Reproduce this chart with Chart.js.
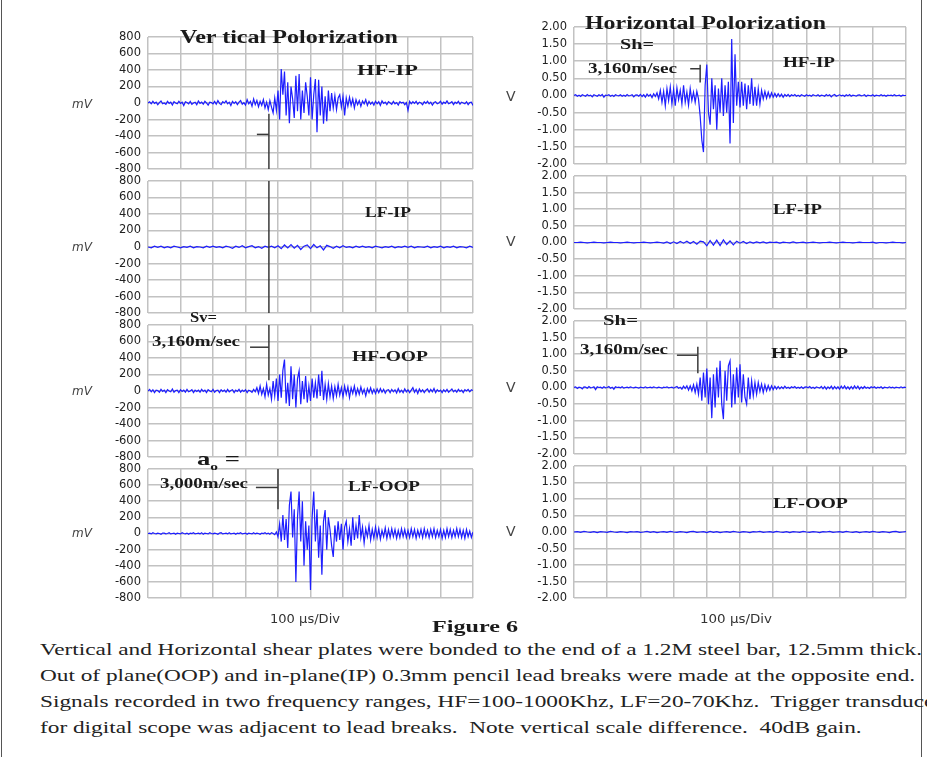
<!DOCTYPE html>
<html>
<head>
<meta charset="utf-8">
<script src="https://cdn.jsdelivr.net/npm/chart.js@4.4.1/dist/chart.umd.min.js"></script>
<style>
  html, body { margin: 0; padding: 0; background: #fff; }
  #page { position: relative; width: 927px; height: 757px; overflow: hidden; background: #fff; }
  #frame { position: absolute; left: 1px; top: 0; width: 919px; height: 757px; border-left: 1px solid #555; border-right: 1px solid #555; }
  canvas { position: absolute; }
  .t { position: absolute; white-space: nowrap; line-height: 1; transform-origin: left center; color: #1a1a1a; }
  .serif { font-family: 'Liberation Serif', 'Times New Roman', serif; }
  .bold { font-weight: bold; }
  .unit { font-family: 'DejaVu Sans', sans-serif; color: #444; }
  .cap { font-family: 'Liberation Serif', 'Times New Roman', serif; font-size: 16px; color: #222; }
</style>
</head>
<body>
<div id="page">
  <div id="frame"></div>

  <canvas id="l1" width="420" height="160" style="left:60px; top:23px"></canvas>
  <canvas id="l2" width="420" height="160" style="left:60px; top:167px"></canvas>
  <canvas id="l3" width="420" height="160" style="left:60px; top:311px"></canvas>
  <canvas id="l4" width="420" height="157" style="left:60px; top:455px"></canvas>
  <canvas id="r1" width="415" height="165" style="left:500px; top:13px"></canvas>
  <canvas id="r2" width="415" height="161" style="left:500px; top:162px"></canvas>
  <canvas id="r3" width="415" height="161" style="left:500px; top:307px"></canvas>
  <canvas id="r4" width="415" height="160" style="left:500px; top:452px"></canvas>

  <div class="t serif bold" style="left:180px; top:28px; font-size:18px" data-w="218">Ver tical Polorization</div>
  <div class="t serif bold" style="left:585px; top:14px; font-size:18px" data-w="241">Horizontal Polorization</div>

  <div class="t serif bold" style="left:357px; top:64px; font-size:14px" data-w="61">HF-IP</div>
  <div class="t serif bold" style="left:365px; top:206px; font-size:14px" data-w="46">LF-IP</div>
  <div class="t serif bold" style="left:352px; top:350px; font-size:14px" data-w="76">HF-OOP</div>
  <div class="t serif bold" style="left:348px; top:480px; font-size:14px" data-w="72">LF-OOP</div>
  <div class="t serif bold" style="left:783px; top:56px; font-size:14px" data-w="52">HF-IP</div>
  <div class="t serif bold" style="left:773px; top:203px; font-size:14px" data-w="49">LF-IP</div>
  <div class="t serif bold" style="left:771px; top:347px; font-size:14px" data-w="77">HF-OOP</div>
  <div class="t serif bold" style="left:773px; top:497px; font-size:14px" data-w="75">LF-OOP</div>

  <div class="t serif bold" style="left:190px; top:310px; font-size:15px" data-w="27">Sv=</div>
  <div class="t serif bold" style="left:152px; top:335px; font-size:14px" data-w="88">3,160m/sec</div>
  <div class="t serif bold" style="left:197px; top:449px; font-size:19px" data-w="43">a<sub style="font-size:11px">o</sub> =</div>
  <div class="t serif bold" style="left:160px; top:477px; font-size:14px" data-w="88">3,000m/sec</div>
  <div class="t serif bold" style="left:620px; top:38px; font-size:14px" data-w="34">Sh=</div>
  <div class="t serif bold" style="left:588px; top:62px; font-size:14px" data-w="89">3,160m/sec</div>
  <div class="t serif bold" style="left:603px; top:314px; font-size:14px" data-w="35">Sh=</div>
  <div class="t serif bold" style="left:580px; top:343px; font-size:14px" data-w="88">3,160m/sec</div>

  <div class="t unit" style="left:72px; top:98px; font-size:12px; font-style:italic">mV</div>
  <div class="t unit" style="left:72px; top:241px; font-size:12px; font-style:italic">mV</div>
  <div class="t unit" style="left:72px; top:385px; font-size:12px; font-style:italic">mV</div>
  <div class="t unit" style="left:72px; top:527px; font-size:12px; font-style:italic">mV</div>
  <div class="t unit" style="left:506px; top:89px; font-size:14px">V</div>
  <div class="t unit" style="left:506px; top:234px; font-size:14px">V</div>
  <div class="t unit" style="left:506px; top:380px; font-size:14px">V</div>
  <div class="t unit" style="left:506px; top:524px; font-size:14px">V</div>

  <div class="t unit" style="left:270px; top:613px; font-size:12px; color:#333" data-w="70">100 µs/Div</div>
  <div class="t unit" style="left:700px; top:613px; font-size:12px; color:#333" data-w="72">100 µs/Div</div>
  <div class="t serif bold" style="left:432px; top:618px; font-size:17px" data-w="86">Figure 6</div>

  <div class="t cap" id="cap1" style="left:40px; top:642px">Vertical and Horizontal shear plates were bonded to the end of a 1.2M steel bar, 12.5mm thick.</div>
  <div class="t cap" style="left:40px; top:668px">Out of plane(OOP) and in-plane(IP) 0.3mm pencil lead breaks were made at the opposite end.</div>
  <div class="t cap" style="left:40px; top:694px">Signals recorded in two frequency ranges, HF=100-1000Khz, LF=20-70Khz.&nbsp; Trigger transducer</div>
  <div class="t cap" style="left:40px; top:720px">for digital scope was adjacent to lead breaks.&nbsp; Note vertical scale difference.&nbsp; 40dB gain.</div>
</div>

<script>
// time axis: 10 divisions of 100 us
const xDivisions = 10;
const mvTicks = [-800, -600, -400, -200, 0, 200, 400, 600, 800];
const voltTicks = [-2, -1.5, -1, -0.5, 0, 0.5, 1, 1.5, 2];

// vertical polarization, mV
const vertHfIp = [
    0, 15, -10, 20, -5, 10, -20, 5, 25, -10,
    0, -15, 20, -5, 10, -25, 15, 0, -10, 20,
    -5, 10, -30, 15, 5, -10, 20, -15, 0, 10,
    -20, 25, -5, 10, -15, 20, 0, -25, 10, 5,
    -10, 20, -15, 30, -5, -20, 15, 0, 25, -10,
    10, -30, 20, -5, 15, -20, 10, 30, -15, 5,
    -25, 40, -10, 20, -40, 50, -20, 30, -45, 20,
    -30, 40, -60, 10, -80, 30, -50, -120, 60, -90,
    150, -200, 410, 100, 380, -150, 250, -245, 200, 50,
    -180, 330, -100, 350, -200, 150, -120, 250, 80, -150,
    310, -200, 100, 290, -355, 280, -150, 200, -250, 80,
    -220, 150, -100, 120, -60, 90, -80, 60, 100, -50,
    80, -150, 60, -40, 70, -30, 50, -60, 40, -20,
    30, -40, 25, -10, 40, -30, 20, -15, 10, -25,
    20, -10, 15, -30, 25, -5, 10, -20, 15, 0,
    -15, 20, -10, 5, -25, 15, 0, 10, -20, 5,
    -90, 20, -10, 15, -5, 20, -15, 10, 0, -20,
    15, -5, 20, -10, 10, -25, 5, 15, -10, 0,
    20, -15, 10, -5, 25, -10, 0, 15, -20, 10,
    -5, 20, -15, 10, 0, -10, 15, -20, 5, 10, -30
];

const vertLfIp = [
    0, -10, 10, -5, 10, -10, 5, -10, 10, 0,
    -10, 5, -5, 10, -10, 5, 0, -10, 10, -5,
    10, -5, 5, -10, 10, 0, -15, 10, -5, 15,
    -10, 5, 15, -10, 5, -15, 10, -5, 10, -10,
    15, -20, 25, -10, 30, -15, 20, -30, 10, 25,
    -20, 30, -10, 15, -35, 20, 5, -15, 10, -10,
    15, -5, 5, -10, 10, -5, 10, -5, 5, -10,
    10, 0, -10, 5, -5, 10, -10, 5, -5, 10,
    -5, 10, -10, 5, 0, -5, 10, -10, 5, -5,
    10, -10, 5, -5, 10, -10, 5, 0, -10, 10, -5
];

const vertHfOop = [
    0, 20, -10, 15, -20, 10, 5, -15, 20, -5,
    10, -20, 15, 0, -10, 25, -15, 5, 10, -20,
    15, -5, 10, -15, 20, -10, 0, 15, -20, 10,
    -5, 10, -15, 20, -5, 10, -20, 15, 0, -10,
    20, -15, 5, 10, -20, 15, -5, 10, -15, 20,
    -10, 5, 15, -20, 10, -5, 20, -15, 10, -5,
    15, -20, 10, 0, -15, 20, -10, 40, -30, 60,
    -40, 30, -70, 80, -50, 30, -100, 120, -60, 150,
    -120, 200, -80, 250, 380, -150, 100, -180, 300, -100,
    200, -200, 150, 245, -160, 120, -100, 180, -140, 60,
    -120, 150, -80, 100, -90, 200, -60, 245, -110, 80,
    -100, 90, -70, 60, -90, 50, -60, 80, -50, 40,
    -70, 60, -40, 50, -80, 40, -30, 60, -50, 30,
    -40, 50, -30, 20, -60, 30, -20, 40, -30, 20,
    -30, 25, -20, 30, -15, 20, -25, 10, 15, -20,
    20, -10, 15, -25, 30, -15, 10, -20, 25, -10,
    15, -20, 10, 40, -15, 20, -30, 25, -10, 15,
    -20, 10, 25, -15, 20, -10, 30, -20, 15, -5,
    10, -20, 15, -10, 20, -15, 5, 25, -10, 10,
    -15, 20, -5, 10, -20, 15, 0, 20, -10, 15, 5
];

const vertLfOop = [
    0, 5, -5, 10, 0, -5, 5, 0, -10, 5,
    5, -5, 0, 10, -5, 0, 5, -10, 5, 0,
    -5, 10, 0, -5, 5, -10, 5, 0, 10, -5,
    0, 5, -5, 10, -10, 5, 0, -5, 10, 0,
    -5, 5, 0, -10, 5, 10, -5, 0, 5, -5,
    10, -5, 0, 5, -10, 5, 0, 10, -5, 0,
    5, -10, 5, 0, -5, 10, -5, 5, 0, -10,
    5, 0, 10, -5, 5, -10, 10, 0, -15, 20,
    -40, 120, -100, 230, -80, 180, -180, 350, 520, -50,
    300, -600, 200, 520, -100, 400, -400, 150, -200, 100,
    -700, 200, 520, -100, 300, -300, 100, -510, 150, 290,
    -200, 200, 50, -150, -290, 100, -100, 150, -80, 120,
    -200, 80, 150, -100, 60, -150, 200, -80, 100, -60,
    230, -50, 80, -120, 60, -40, 100, -80, 50, -60,
    80, -50, 60, -70, 40, -40, 70, -60, 50, -50,
    60, -40, 50, -60, 40, -50, 60, -40, 50, -50,
    40, -50, 60, -40, 50, -60, 40, -40, 50, -50,
    60, -40, 40, -50, 50, -40, 60, -50, 40, -40,
    50, -60, 40, -50, 60, -40, 50, -50, 40, -40,
    60, -40, 50, -50, 40, -60, 50, -40, 30, -50, 20
];

// horizontal polarization, V
const horzHfIp = [
    0, 0.02, -0.02, 0.01, -0.03, 0.02, 0, -0.02, 0.03, -0.01,
    0.01, -0.04, 0.02, 0, -0.02, 0.02, -0.01, 0.03, -0.05, 0.01,
    0, 0.02, -0.02, 0.01, -0.03, 0.02, 0, -0.01, 0.02, -0.02,
    0.01, -0.02, 0.03, -0.01, 0, 0.02, -0.04, 0.01, 0.02, -0.02,
    0.03, -0.03, 0.02, -0.05, 0.04, -0.02, 0.03, -0.06, 0.05, -0.03,
    0.08, -0.1, 0.15, -0.2, 0.12, -0.3, 0.2, -0.15, 0.25, -0.25,
    0.18, -0.3, 0.22, -0.12, 0.15, -0.25, 0.3, -0.2, 0.1, -0.28,
    0.2, -0.15, 0.1, -0.2, 0.12, -0.1, -0.6, -1.3, -1.65, 0.3,
    0.9, -0.5, -0.85, 0.5, -0.4, 0.3, -1.0, 0.2, -0.5, 0.5,
    -0.6, 0.3, -0.5, 0.4, -1.4, 1.65, -0.8, 1.2, -0.3, 0.4,
    -0.35, 0.4, -0.3, 0.35, -0.4, 0.3, -0.25, 0.5, -0.3, 0.25,
    -0.3, 0.2, -0.25, 0.15, -0.1, 0.12, -0.08, 0.1, -0.06, 0.08,
    -0.05, 0.06, -0.04, 0.05, -0.03, 0.04, -0.05, 0.03, -0.02, 0.03,
    -0.03, 0.02, -0.01, 0.03, -0.02, 0.01, -0.03, 0.02, 0, -0.02,
    0.02, -0.01, 0.01, -0.02, 0.02, 0, -0.01, 0.02, -0.02, 0.01,
    0, -0.02, 0.03, -0.01, 0.02, -0.04, 0.01, 0.03, -0.02, 0,
    0.02, -0.01, 0.01, -0.03, 0.02, -0.01, 0.03, -0.02, 0.01, 0,
    -0.02, 0.01, 0.02, -0.01, 0, 0.02, -0.03, 0.01, 0, -0.01,
    0.02, -0.02, 0.01, 0, -0.01, 0.02, -0.01, 0.01, -0.02, 0.01,
    0, 0.01, -0.01, 0.02, -0.01, 0, 0.01, -0.02, 0.01, 0, 0
];

const horzLfIp = [
    0, 0, 0.01, 0, -0.01, 0, 0.01, 0, 0, -0.01,
    0, 0.01, 0, 0, -0.01, 0, 0.01, 0, -0.01, 0,
    0, 0.01, 0, -0.01, 0, 0.01, 0, -0.02, 0.02, -0.03,
    0.02, -0.03, 0.03, -0.02, 0.04, -0.03, 0.03, -0.05, 0.04, 0.02,
    -0.1, 0.06, -0.08, 0.07, -0.09, 0.08, -0.06, 0.05, -0.07, 0.04,
    -0.02, 0.03, -0.03, 0.02, -0.02, 0.02, -0.01, 0.02, -0.02, 0.01,
    0, 0.01, -0.02, 0.01, 0, -0.01, 0.02, -0.01, 0, 0.01,
    -0.01, 0, 0.01, 0, -0.01, 0, 0, 0.01, 0, -0.01,
    0, 0.01, 0, 0, -0.01, 0, 0.01, 0, 0, 0,
    0.01, -0.02, 0, 0, -0.01, 0, 0.01, 0, 0, -0.01, 0
];

const horzHfOop = [
    0, 0.02, -0.03, 0.01, 0, -0.04, 0.02, 0.01, -0.02, 0.03,
    -0.01, 0, 0.02, -0.06, 0.02, 0, 0.01, -0.02, 0.02, -0.01,
    0, 0.03, -0.02, 0.01, -0.05, 0.02, 0, 0.01, -0.01, 0.02,
    -0.02, 0, 0.01, -0.01, 0.02, 0, -0.01, 0.01, 0, -0.02,
    0.01, 0, -0.01, 0.02, -0.01, 0, 0.01, -0.01, 0.02, 0,
    -0.01, 0.01, 0, -0.02, 0.01, 0, 0.02, -0.01, 0, 0.01,
    -0.02, 0.01, 0.03, -0.02, 0.01, -0.05, 0.04, -0.03, 0.05, -0.08,
    0.05, -0.1, 0.08, -0.15, 0.1, -0.2, 0.3, -0.4, 0.45, -0.3,
    0.57, -0.5, 0.3, -0.92, 0.4, -0.6, 0.6, -0.3, 0.8, -0.5,
    -0.95, 0.5, -0.4, 0.65, 0.8, -0.6, 0.4, -0.5, 0.6, -0.3,
    0.7, -0.45, 0.4, -0.3, -0.5, 0.3, -0.35, 0.2, -0.25, 0.15,
    -0.2, 0.15, -0.12, 0.1, -0.15, 0.08, -0.1, 0.06, -0.08, 0.05,
    -0.06, 0.04, -0.05, 0.03, -0.04, 0.02, -0.03, 0.04, -0.02, 0.01,
    -0.03, 0.02, -0.01, 0.03, -0.02, 0.01, -0.02, 0.02, -0.03, 0.01,
    0.02, -0.01, 0.03, -0.02, 0.01, -0.03, 0.02, 0, -0.02, 0.03,
    -0.04, 0.03, -0.05, 0.02, -0.03, 0.04, -0.05, 0.03, -0.04, 0.02,
    -0.05, 0.04, -0.03, 0.05, -0.04, 0.02, -0.05, 0.03, -0.04, 0.05,
    -0.03, 0.04, -0.05, 0.02, -0.03, 0.03, -0.02, 0.01, -0.03, 0.02,
    -0.01, 0.02, -0.02, 0.01, -0.01, 0.02, -0.03, 0.01, 0, -0.01,
    0.02, -0.01, 0.01, -0.02, 0.01, 0, -0.01, 0.02, -0.01, 0.01, 0
];

const horzLfOop = [
    0, 0.01, -0.01, 0.02, 0, -0.01, 0.01, -0.02, 0.01, 0,
    -0.01, 0.02, 0, -0.01, 0.01, 0, -0.02, 0.01, 0, 0.01,
    -0.01, 0, 0.02, -0.01, 0.01, -0.02, 0, 0.01, -0.01, 0.02,
    0, -0.01, 0.01, 0, -0.02, 0.01, 0.02, -0.01, 0, 0.01,
    -0.02, 0.02, -0.01, 0.01, -0.02, 0, 0.01, -0.01, 0.02, 0,
    -0.01, 0.01, 0, -0.02, 0.01, 0, 0.02, -0.01, 0, 0.01,
    -0.01, 0.02, 0, -0.01, 0.01, -0.02, 0.01, 0, -0.01, 0.02,
    0, -0.01, 0.01, 0, -0.02, 0.01, 0, 0.02, -0.01, 0,
    0.01, -0.01, 0.02, 0, -0.01, 0.01, -0.02, 0, 0.01, -0.01,
    0.02, 0, -0.01, 0.01, 0, -0.02, 0.01, 0.02, -0.01, 0, 0.01
];

// velocity marker lines, [x0, y0, x1, y1] in divisions / signal units
const markersL1 = [[3.72, -130, 3.72, -800], [3.35, -380, 3.72, -380]];
const markersL2 = [[3.72, 800, 3.72, -800]];
const markersL3 = [[3.72, 800, 3.72, 130], [3.14, 530, 3.72, 530]];
const markersL4 = [[4.0, 800, 4.0, 300], [3.32, 570, 4.0, 570]];
const markersR1 = [[3.8, 0.9, 3.8, 0.38], [3.5, 0.78, 3.8, 0.78]];
const markersR3 = [[3.73, 1.22, 3.73, 0.43], [3.1, 0.97, 3.73, 0.97]];

const gridColor = '#c2c2c2';
const traceColor = 'rgb(30, 30, 255)';

const markerPlugin = {
    id: 'markers',
    afterDatasetsDraw(chart, args, opts) {
        const segs = opts.segments || [];
        const ctx = chart.ctx;
        const xs = chart.scales.x, ys = chart.scales.y;
        ctx.save();
        ctx.strokeStyle = '#3a3a3a';
        ctx.lineWidth = 1.5;
        segs.forEach(s => {
            ctx.beginPath();
            ctx.moveTo(xs.getPixelForValue(s[0]), ys.getPixelForValue(s[1]));
            ctx.lineTo(xs.getPixelForValue(s[2]), ys.getPixelForValue(s[3]));
            ctx.stroke();
        });
        ctx.restore();
    }
};

function makePanel(id, values, ticks, isVolt, axisWidth, padRight, markers) {
    const points = values.map((v, i) => ({ x: i * xDivisions / (values.length - 1), y: v }));
    const lo = ticks[0], hi = ticks[ticks.length - 1];
    return new Chart(document.getElementById(id), {
        type: 'line',
        data: {
            datasets: [{
                data: points,
                borderColor: traceColor,
                borderWidth: 1.2,
                pointRadius: 0,
                tension: 0,
                fill: false
            }]
        },
        options: {
            responsive: false,
            animation: false,
            events: [],
            layout: { padding: { top: 8, bottom: 8, left: 0, right: padRight } },
            plugins: {
                legend: { display: false },
                tooltip: { enabled: false },
                markers: { segments: markers }
            },
            scales: {
                x: {
                    type: 'linear',
                    min: 0,
                    max: xDivisions,
                    ticks: { display: false, stepSize: 1 },
                    grid: { color: gridColor, lineWidth: 1.5, drawTicks: false },
                    border: { display: false },
                    afterFit: scale => { scale.height = 0; }
                },
                y: {
                    min: lo,
                    max: hi,
                    afterBuildTicks: scale => { scale.ticks = ticks.map(v => ({ value: v })); },
                    ticks: {
                        autoSkip: false,
                        padding: 7,
                        color: '#222',
                        font: { family: 'DejaVu Sans', size: 11.5 },
                        callback: v => isVolt ? v.toFixed(2) : String(v)
                    },
                    grid: { color: gridColor, lineWidth: 1.5, drawTicks: false },
                    border: { display: false },
                    afterFit: scale => { scale.width = axisWidth; }
                }
            }
        },
        plugins: [markerPlugin]
    });
}

makePanel('l1', vertHfIp, mvTicks, false, 88, 7, markersL1);
makePanel('l2', vertLfIp, mvTicks, false, 88, 7, markersL2);
makePanel('l3', vertHfOop, mvTicks, false, 88, 7, markersL3);
makePanel('l4', vertLfOop, mvTicks, false, 88, 7, markersL4);
makePanel('r1', horzHfIp, voltTicks, true, 74, 9, markersR1);
makePanel('r2', horzLfIp, voltTicks, true, 74, 9, []);
makePanel('r3', horzHfOop, voltTicks, true, 74, 9, markersR3);
makePanel('r4', horzLfOop, voltTicks, true, 74, 9, []);

// the scan is stretched sideways, so squeeze/stretch text to its measured width
document.querySelectorAll('[data-w]').forEach(el => {
    const w = el.getBoundingClientRect().width;
    el.style.transform = 'scaleX(' + (Number(el.dataset.w) / w) + ')';
});
const capScale = 882 / document.getElementById('cap1').getBoundingClientRect().width;
document.querySelectorAll('.cap').forEach(el => {
    el.style.transform = 'scaleX(' + capScale + ')';
});
</script>
</body>
</html>
